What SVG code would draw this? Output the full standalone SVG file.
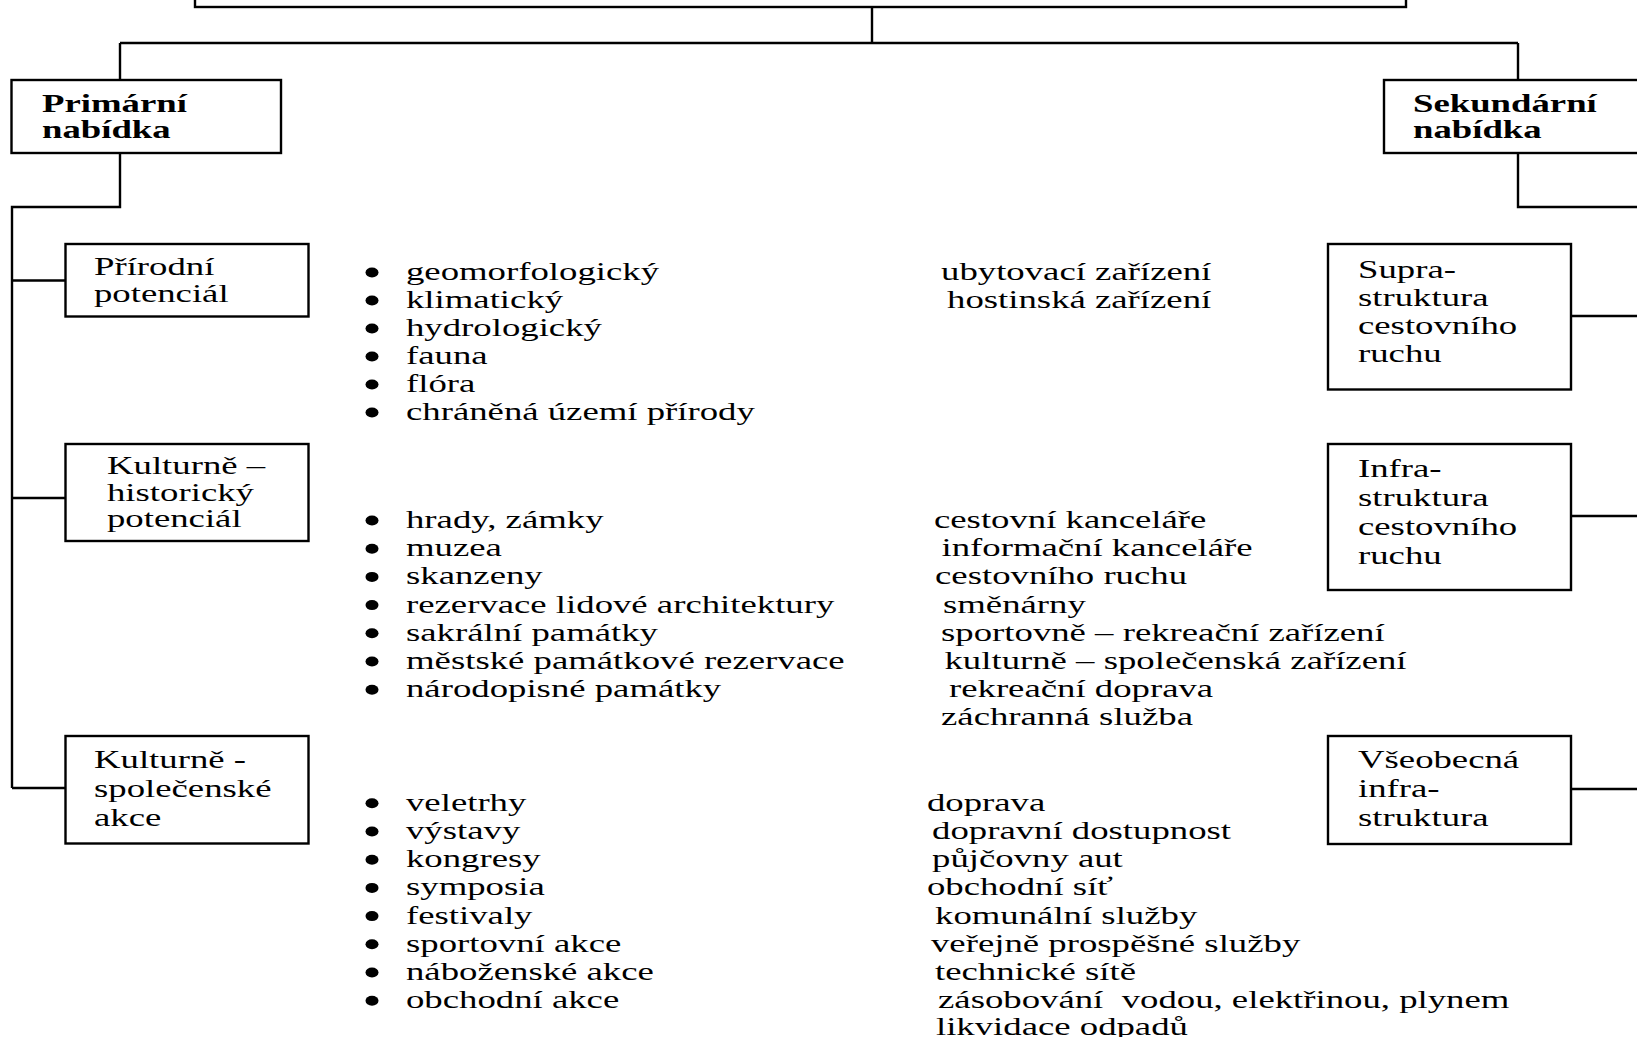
<svg xmlns="http://www.w3.org/2000/svg" width="1637" height="1037" viewBox="0 0 1637 1037">
<style>
.box{fill:#fff;stroke:#000;stroke-width:2.4}
.ln{fill:none;stroke:#000;stroke-width:2.4}
text{font-family:"Liberation Serif","Times New Roman",serif;font-size:24.5px;fill:#000;white-space:pre}
.b{font-weight:bold}
.dot{fill:#000}
</style>
<rect x="0" y="0" width="1637" height="1037" fill="#fff"/>
<g id="connectors">
<path class="ln" d="M872,7 V43 M120,43 H1518 M120,43 V80 M1518,43 V80 M120,153 V207 H12 V788 M12,280.5 H65.5 M12,498 H65.5 M12,788 H65.5 M1518,153 V207 H1645 M1571,316 H1645 M1571,516 H1645 M1571,789 H1645"/>
</g>
<g id="root"><rect class="box" x="195" y="-10" width="1211" height="17"/></g>
<g id="primarni">
<rect class="box" x="11.5" y="80" width="269.5" height="73"/>
<g transform="translate(42,0) scale(1.5,1)"><text class="b" x="0" y="112">Primární</text><text class="b" x="0" y="138">nabídka</text></g>
</g>
<g id="sekundarni">
<rect class="box" x="1384" y="80" width="270" height="73"/>
<g transform="translate(1413,0) scale(1.5,1)"><text class="b" x="0" y="112">Sekundární</text><text class="b" x="0" y="138">nabídka</text></g>
</g>
<g id="prirodni">
<rect class="box" x="65.5" y="244" width="243" height="72.5"/>
<g transform="translate(94,0) scale(1.5,1)"><text x="0" y="275">Přírodní</text><text x="0" y="302.5">potenciál</text></g>
</g>
<g id="kulturne-historicky">
<rect class="box" x="65.5" y="444" width="243" height="97"/>
<g transform="translate(107,0) scale(1.5,1)"><text x="0" y="474">Kulturně –</text><text x="0" y="501">historický</text><text x="0" y="527">potenciál</text></g>
</g>
<g id="kulturne-spolecenske">
<rect class="box" x="65.5" y="736" width="243" height="107.5"/>
<g transform="translate(94,0) scale(1.5,1)"><text x="0" y="768">Kulturně -</text><text x="0" y="797">společenské</text><text x="0" y="826.5">akce</text></g>
</g>
<g id="suprastruktura">
<rect class="box" x="1328" y="244" width="243" height="145.5"/>
<g transform="translate(1358,0) scale(1.5,1)"><text x="0" y="278">Supra-</text><text x="0" y="306">struktura</text><text x="0" y="334">cestovního</text><text x="0" y="362.5">ruchu</text></g>
</g>
<g id="infrastruktura">
<rect class="box" x="1328" y="444" width="243" height="146"/>
<g transform="translate(1358,0) scale(1.5,1)"><text x="0" y="477">Infra-</text><text x="0" y="506">struktura</text><text x="0" y="535">cestovního</text><text x="0" y="564">ruchu</text></g>
</g>
<g id="vseobecna">
<rect class="box" x="1328" y="736" width="243" height="108"/>
<g transform="translate(1358,0) scale(1.5,1)"><text x="0" y="768">Všeobecná</text><text x="0" y="797">infra-</text><text x="0" y="826.5">struktura</text></g>
</g>
<g id="list-prirodni">
<g class="dot"><ellipse cx="372" cy="272.5" rx="6.5" ry="5"/><ellipse cx="372" cy="300.5" rx="6.5" ry="5"/><ellipse cx="372" cy="328.5" rx="6.5" ry="5"/><ellipse cx="372" cy="356.5" rx="6.5" ry="5"/><ellipse cx="372" cy="384.5" rx="6.5" ry="5"/><ellipse cx="372" cy="412.5" rx="6.5" ry="5"/></g>
<g transform="translate(406,0) scale(1.5,1)"><text x="0" y="280">geomorfologický</text><text x="0" y="308">klimatický</text><text x="0" y="336">hydrologický</text><text x="0" y="364">fauna</text><text x="0" y="392">flóra</text><text x="0" y="420">chráněná území přírody</text></g>
</g>
<g id="list-supra">
<g transform="translate(934,0) scale(1.5,1)"><text x="4.7" y="280">ubytovací zařízení</text><text x="8.7" y="308">hostinská zařízení</text></g>
</g>
<g id="list-historicky">
<g class="dot"><ellipse cx="372" cy="520.5" rx="6.5" ry="5"/><ellipse cx="372" cy="548.7" rx="6.5" ry="5"/><ellipse cx="372" cy="576.9" rx="6.5" ry="5"/><ellipse cx="372" cy="605.1" rx="6.5" ry="5"/><ellipse cx="372" cy="633.3" rx="6.5" ry="5"/><ellipse cx="372" cy="661.5" rx="6.5" ry="5"/><ellipse cx="372" cy="689.7" rx="6.5" ry="5"/></g>
<g transform="translate(406,0) scale(1.5,1)"><text x="0" y="528">hrady, zámky</text><text x="0" y="556.2">muzea</text><text x="0" y="584.4">skanzeny</text><text x="0" y="612.6">rezervace lidové architektury</text><text x="0" y="640.8">sakrální památky</text><text x="0" y="669">městské památkové rezervace</text><text x="0" y="697.2">národopisné památky</text></g>
</g>
<g id="list-infra">
<g transform="translate(934,0) scale(1.5,1)"><text x="0" y="528">cestovní kanceláře</text><text x="5" y="556.2">informační kanceláře</text><text x="0.7" y="584.4">cestovního ruchu</text><text x="6" y="612.6">směnárny</text><text x="4.7" y="640.8">sportovně – rekreační zařízení</text><text x="7" y="669">kulturně – společenská zařízení</text><text x="10" y="697.2">rekreační doprava</text><text x="4.7" y="725.2">záchranná služba</text></g>
</g>
<g id="list-akce">
<g class="dot"><ellipse cx="372" cy="803.3" rx="6.5" ry="5"/><ellipse cx="372" cy="831.5" rx="6.5" ry="5"/><ellipse cx="372" cy="859.7" rx="6.5" ry="5"/><ellipse cx="372" cy="887.9" rx="6.5" ry="5"/><ellipse cx="372" cy="916.1" rx="6.5" ry="5"/><ellipse cx="372" cy="944.3" rx="6.5" ry="5"/><ellipse cx="372" cy="972.5" rx="6.5" ry="5"/><ellipse cx="372" cy="1000.7" rx="6.5" ry="5"/></g>
<g transform="translate(406,0) scale(1.5,1)"><text x="0" y="810.8">veletrhy</text><text x="0" y="839">výstavy</text><text x="0" y="867.2">kongresy</text><text x="0" y="895.4">symposia</text><text x="0" y="923.6">festivaly</text><text x="0" y="951.8">sportovní akce</text><text x="0" y="980">náboženské akce</text><text x="0" y="1008.2">obchodní akce</text></g>
</g>
<g id="list-vseobecna">
<g transform="translate(934,0) scale(1.5,1)"><text x="-4.7" y="810.8">doprava</text><text x="-1.3" y="839">dopravní dostupnost</text><text x="-1.3" y="867.2">půjčovny aut</text><text x="-4.7" y="895.4">obchodní síť</text><text x="0.7" y="923.6">komunální služby</text><text x="-2" y="951.8">veřejně prospěšné služby</text><text x="0.7" y="980">technické sítě</text><text x="2.7" y="1008.2">zásobování  vodou, elektřinou, plynem</text><text x="1.3" y="1035.3">likvidace odpadů</text></g>
</g>
</svg>
